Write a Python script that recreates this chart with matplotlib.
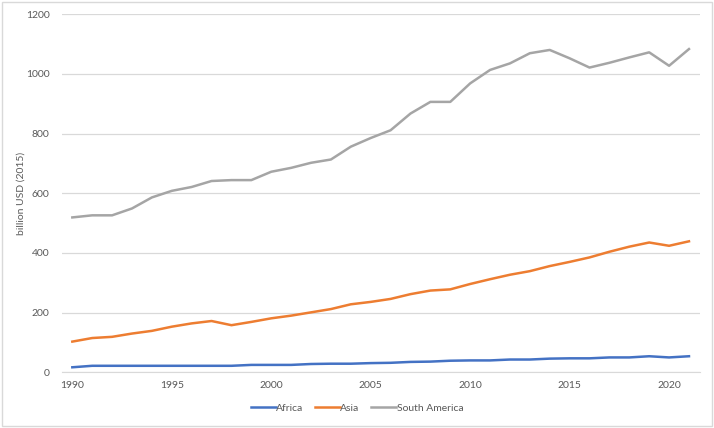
import matplotlib
matplotlib.use('Agg')
import matplotlib.pyplot as plt
from matplotlib.patches import Rectangle

plt.rcParams['font.family'] = ['Lato', 'DejaVu Sans']

years = list(range(1990, 2022))
africa = [17, 22, 22, 22, 22, 22, 22, 22, 22, 25, 25, 25, 28, 29, 29, 31,
          32, 35, 36, 39, 40, 40, 43, 43, 46, 47, 47, 50, 50, 54, 50, 54]
asia = [103, 115, 119, 130, 139, 153, 164, 172, 158, 169, 181, 190, 201, 212, 228, 236,
        246, 262, 274, 278, 296, 312, 327, 339, 356, 370, 385, 404, 421, 435, 424, 439]
south_america = [519, 526, 526, 549, 586, 608, 621, 641, 644, 644, 672, 685, 702, 713, 756, 785,
                 811, 867, 906, 906, 968, 1013, 1035, 1069, 1080, 1052, 1021, 1037, 1055, 1072, 1027, 1083]
x_ticks = [1990, 1995, 2000, 2005, 2010, 2015, 2020]
y_ticks = [0, 200, 400, 600, 800, 1000, 1200]

fig = plt.figure(figsize=(7.14, 4.28), dpi=100)
ax = fig.add_axes([0.0868, 0.130, 0.8932, 0.837])

# Excel-like chart border
fig.patches.append(Rectangle((0.003, 0.005), 0.994, 0.99, transform=fig.transFigure,
                             fill=False, edgecolor='#d9d9d9', linewidth=1))

ax.plot(years, africa, color='#4472C4', lw=1.8, label='Africa')
ax.plot(years, asia, color='#ED7D31', lw=1.8, label='Asia')
ax.plot(years, south_america, color='#A5A5A5', lw=1.8, label='South America')

ax.set_xlim(1989.48, 2021.54)
ax.set_ylim(0, 1200)
ax.set_xticks(x_ticks)
ax.set_yticks(y_ticks)
ax.grid(axis='y', color='#d9d9d9', lw=0.9)
ax.set_axisbelow(True)
for s in ['top', 'right', 'left']:
    ax.spines[s].set_visible(False)
ax.spines['bottom'].set_color('#d9d9d9')
ax.tick_params(length=0, labelsize=7.5, colors='#595959', pad=6)
ax.tick_params(axis='y', pad=9)
ax.set_ylabel('billion USD (2015)', fontsize=7.5, color='#595959', labelpad=0)

fig.legend(loc='center', bbox_to_anchor=(0.5, 0.047), ncol=3, frameon=False,
           fontsize=7.5, labelcolor='#595959', handlelength=2.4, handletextpad=0.05,
           columnspacing=1.1)

plt.savefig('out.png', dpi=100)
